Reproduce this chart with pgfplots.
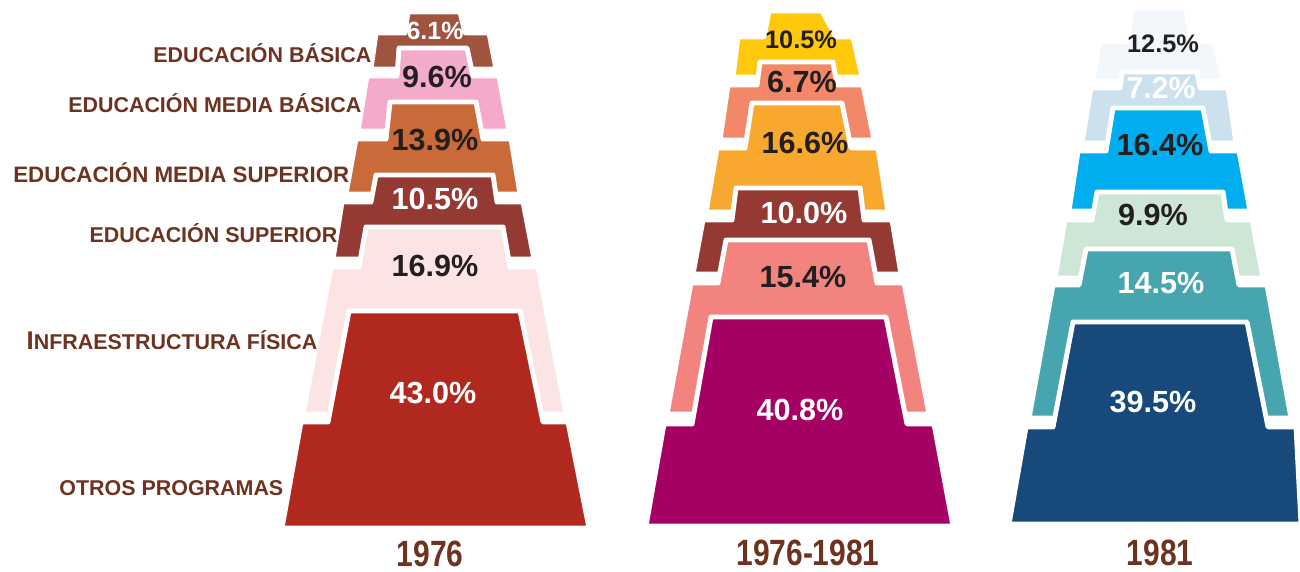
\documentclass[border=0pt]{standalone}
\usepackage{graphicx}
\usepackage{fontspec}
\setmainfont{Liberation Sans}
\usepackage{pgfplots}
\pgfplotsset{compat=1.18}
\definecolor{labbrown}{RGB}{110,50,32}
\definecolor{txtdark}{RGB}{35,31,32}
% 1976
\definecolor{a1}{RGB}{160,83,63}
\definecolor{a2}{RGB}{243,170,203}
\definecolor{a3}{RGB}{201,106,56}
\definecolor{a4}{RGB}{148,58,51}
\definecolor{a5}{RGB}{253,228,228}
\definecolor{a6}{RGB}{177,40,30}
% 1976-1981
\definecolor{b1}{RGB}{255,200,10}
\definecolor{b2}{RGB}{243,136,105}
\definecolor{b3}{RGB}{248,168,46}
\definecolor{b4}{RGB}{148,58,51}
\definecolor{b5}{RGB}{242,131,127}
\definecolor{b6}{RGB}{165,0,100}
% 1981
\definecolor{c1}{RGB}{242,247,252}
\definecolor{c2}{RGB}{204,225,238}
\definecolor{c3}{RGB}{0,174,239}
\definecolor{c4}{RGB}{205,230,214}
\definecolor{c5}{RGB}{70,165,175}
\definecolor{c6}{RGB}{23,73,122}
\newcommand{\pct}[4]{\node[text=#4, font=\bfseries\fontsize{#3}{#3}\selectfont, inner sep=0pt] at (axis cs:#1) {#2};}
\newcommand{\lab}[3][6.1]{\node[text=labbrown, anchor=east, font=\bfseries\fontsize{#1}{#1}\selectfont, inner sep=0pt] at (axis cs:#2) {#3};}
\newcommand{\yr}[2]{\node[text=labbrown, font=\bfseries\fontsize{10.4}{10.4}\selectfont, inner sep=0pt] at (axis cs:#1) {\scalebox{0.82}[1]{#2}};}
\begin{document}
\begin{tikzpicture}
\useasboundingbox (0,0) rectangle (13cm,5.72cm);
\begin{axis}[at={(0,0)}, anchor=south west, scale only axis,
  width=13cm, height=5.72cm, xmin=0, xmax=1300, ymin=0, ymax=572,
  y dir=reverse, axis lines=none, clip=false,
  every axis plot/.style={draw=white, line width=1.4pt, line join=round}]
% ---- 1976
\addplot[fill=a1] coordinates {(408,12) (460,12) (465,33) (489,33) (496,69) (371,69) (376,33) (405,33)} -- cycle;
\addplot[fill=a2] coordinates {(399,48) (467,48) (473,76) (499,76) (509,131) (358,131) (367,76) (397,76)} -- cycle;
\addplot[fill=a3] coordinates {(390,102) (476,102) (483,139) (511,139) (520,194) (346,194) (356,139) (386,139)} -- cycle;
\addplot[fill=a4] coordinates {(376,175) (493,175) (497,202) (523,202) (534,259) (333,259) (342,202) (371,202)} -- cycle;
\addplot[fill=a5] coordinates {(366,227) (503,227) (510,267) (538,267) (566,414) (303,414) (331,267) (359,267)} -- cycle;
\addplot[fill=a6] coordinates {(349,311) (520,311) (543,422) (568,422) (589,528) (282,528) (301,422) (328,422)} -- cycle;
% ---- 1976-1981
\addplot[fill=b1] coordinates {(769,11) (822,11) (836,37) (853,37) (862,77) (733,77) (738,37) (764,37)} -- cycle;
\addplot[fill=b2] coordinates {(760,62) (833,62) (837,85) (863,85) (874,140) (720,140) (728,85) (757,85)} -- cycle;
\addplot[fill=b3] coordinates {(752,103) (842,103) (851,148) (878,148) (888,212) (706,212) (717,148) (745,148)} -- cycle;
\addplot[fill=b4] coordinates {(736,188) (860,188) (864,220) (892,220) (901,274) (693,274) (703,220) (732,220)} -- cycle;
\addplot[fill=b5] coordinates {(726,240) (869,240) (877,283) (904,283) (929,414) (667,414) (691,283) (718,283)} -- cycle;
\addplot[fill=b6] coordinates {(711,317) (886,317) (907,424) (934,424) (953,526) (646,526) (664,424) (692,424)} -- cycle;
% ---- 1981
\addplot[fill=c1] coordinates {(1132,8) (1185,8) (1193,42) (1214,42) (1224,81) (1093,81) (1099,42) (1127,42)} -- cycle;
\addplot[fill=c2] coordinates {(1122,72) (1197,72) (1200,88) (1228,88) (1236,143) (1082,143) (1091,88) (1120,88)} -- cycle;
\addplot[fill=c3] coordinates {(1113,108) (1203,108) (1211,151) (1239,151) (1250,211) (1069,211) (1078,151) (1106,151)} -- cycle;
\addplot[fill=c4] coordinates {(1097,192) (1223,192) (1227,220) (1252,220) (1263,278) (1055,278) (1065,220) (1092,220)} -- cycle;
\addplot[fill=c5] coordinates {(1086,249) (1232,249) (1239,285) (1267,285) (1291,418) (1029,418) (1053,285) (1079,285)} -- cycle;
\addplot[fill=c6] coordinates {(1073,322) (1247,322) (1268,427) (1296,427) (1301,524) (1009,524) (1026,427) (1053,427)} -- cycle;
% ---- percentages
\pct{435,31}{6.1\%}{7.1}{white}
\pct{437,77}{9.6\%}{8.7}{txtdark}
\pct{435,140}{13.9\%}{8.7}{txtdark}
\pct{435,199}{10.5\%}{8.7}{white}
\pct{435,266}{16.9\%}{8.7}{txtdark}
\pct{433,393}{43.0\%}{8.7}{white}
\pct{801,40}{10.5\%}{7.2}{txtdark}
\pct{802,82}{6.7\%}{8.7}{txtdark}
\pct{805,143}{16.6\%}{8.7}{txtdark}
\pct{804,213}{10.0\%}{8.7}{white}
\pct{803,277}{15.4\%}{8.7}{txtdark}
\pct{800,410}{40.8\%}{8.7}{white}
\pct{1163,44}{12.5\%}{7.2}{txtdark}
\pct{1161,88}{7.2\%}{8.6}{white}
\pct{1160,145}{16.4\%}{8.7}{txtdark}
\pct{1153,215}{9.9\%}{8.7}{txtdark}
\pct{1161,283}{14.5\%}{8.7}{white}
\pct{1153,402}{39.5\%}{8.7}{white}
% ---- category labels
\lab{372,53}{EDUCACIÓN BÁSICA}
\lab{362,103}{EDUCACIÓN MEDIA BÁSICA}
\lab[6.35]{350,173}{EDUCACIÓN MEDIA SUPERIOR}
\lab{338,233}{EDUCACIÓN SUPERIOR}
\lab{318,340}{{\fontsize{7.3}{7.3}\selectfont I}NFRAESTRUCTURA FÍSICA}
\lab{284,488}{OTROS PROGRAMAS}
% ---- years
\yr{430,554}{1976}
\yr{808,553}{1976-1981}
\yr{1160,553}{1981}
\end{axis}
\end{tikzpicture}
\end{document}
